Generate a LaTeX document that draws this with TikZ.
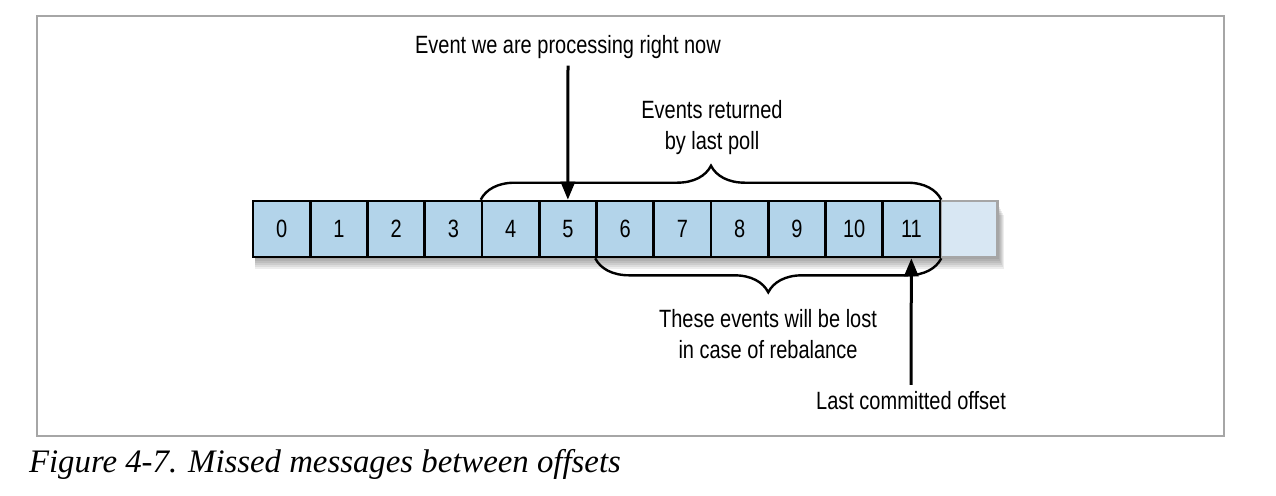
\documentclass[tikz,border=0pt]{standalone}
\usepackage{fontspec}
\setmainfont{Liberation Sans}[FakeStretch=0.8]
\newfontfamily\capfont{Liberation Serif}
\usetikzlibrary{calc, arrows.meta, positioning, decorations.pathreplacing}
\definecolor{cellblue}{HTML}{B3D4EA}
\definecolor{cellpale}{HTML}{D8E7F3}
\tikzstyle{cell}=[draw, fill=cellblue, line width=1.3pt, minimum width=28.6pt, minimum height=28pt, inner sep=0pt, font=\fontsize{12.5}{14}\selectfont]
\tikzstyle{spare}=[cell, draw=gray!70, fill=cellpale]
\tikzstyle{lbl}=[align=center, font=\fontsize{12.5}{15.5}\selectfont]
\tikzstyle{brc}=[decorate, decoration={brace, amplitude=17pt}, line width=1.2pt]
\tikzstyle{pointer}=[-{Triangle[width=7pt,length=9pt]}, line width=1.5pt]

\begin{document}
\begin{tikzpicture}[x=0.5pt,y=-0.5pt]
      \useasboundingbox (0,0) rectangle (1276,495);
      \draw[gray!70, line width=0.6pt] (37,16) rectangle (1224,436);
      % soft shadow under the row
      \foreach \s in {2,4,...,12}
        \fill[black, opacity=0.07] (255,{203+\s}) rectangle ({998+\s/2},{257+\s});
      \node [spare] (cnext) at (969,229) {};
      \foreach \i in {0,...,11}
        \node [cell] (c\i) at ({253+57.25*\i+28.625},229) {\i};
      % labels
      \node [lbl] (now) at (568,47) {Event we are processing right now};
      \node [lbl] (poll) at (712,128) {Events returned\\by last poll};
      \node [lbl] (lost) at (768,334) {These events will be lost\\in case of rebalance};
      \node [lbl] (commit) at (911,401) {Last committed offset};
      % braces
      \draw[brc] (c4.north west) -- (c11.north east);
      \draw[brc] (c11.south east) -- (c6.south west);
      % pointers
      \draw[pointer] (now.south) -- (c5.north);
      \draw[pointer] (commit.north) -- (c11.south);
      \node [anchor=base west, font=\capfont\itshape\fontsize{16.4}{20}\selectfont] (cap) at (22,472) {Figure 4-7. Missed messages between offsets};
  \end{tikzpicture}
\end{document}
